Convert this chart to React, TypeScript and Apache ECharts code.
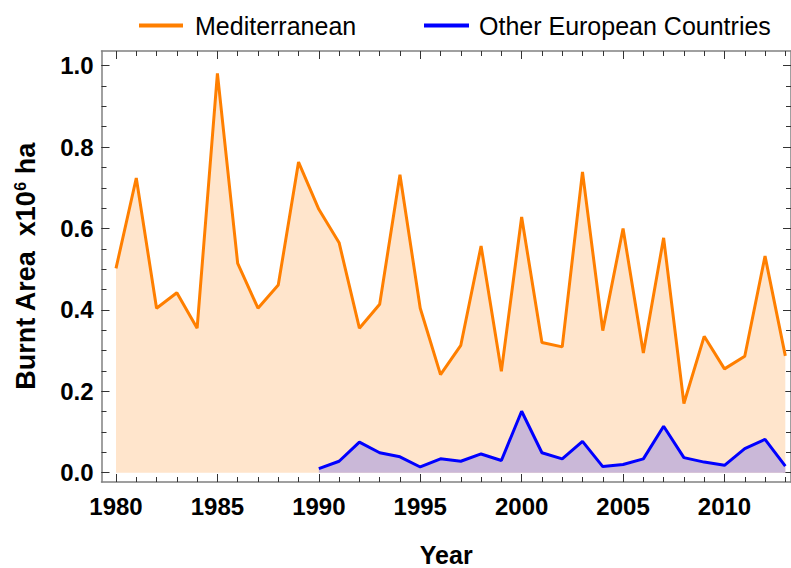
import React, { useEffect, useRef } from "react";
import * as echarts from "echarts";

const medYears = [1980,1981,1982,1983,1984,1985,1986,1987,1988,1989,1990,1991,1992,1993,1994,1995,1996,1997,1998,1999,2000,2001,2002,2003,2004,2005,2006,2007,2008,2009,2010,2011,2012,2013];
const medValues = [0.502,0.724,0.404,0.442,0.355,0.981,0.514,0.404,0.461,0.763,0.647,0.565,0.355,0.414,0.732,0.404,0.241,0.313,0.557,0.249,0.628,0.320,0.309,0.739,0.349,0.600,0.294,0.577,0.170,0.335,0.255,0.286,0.532,0.287];
const otherYears = [1990,1991,1992,1993,1994,1995,1996,1997,1998,1999,2000,2001,2002,2003,2004,2005,2006,2007,2008,2009,2010,2011,2012,2013];
const otherValues = [0.010,0.028,0.075,0.049,0.039,0.014,0.034,0.028,0.046,0.030,0.151,0.049,0.034,0.077,0.015,0.020,0.034,0.114,0.037,0.026,0.018,0.059,0.082,0.016];

const xMajorTicks = [1980,1985,1990,1995,2000,2005,2010];
const xMinorTicks = [1980,1981,1982,1983,1984,1985,1986,1987,1988,1989,1990,1991,1992,1993,1994,1995,1996,1997,1998,1999,2000,2001,2002,2003,2004,2005,2006,2007,2008,2009,2010,2011,2012,2013];
const yMajorTicks = [0,0.2,0.4,0.6,0.8,1.0];
const yMinorTicks = [0,0.05,0.1,0.15,0.2,0.25,0.3,0.35,0.4,0.45,0.5,0.55,0.6,0.65,0.7,0.75,0.8,0.85,0.9,0.95,1.0];

const X_MIN = 1979.285;
const X_MAX = 2013.28;
const Y_MIN = -0.0229;
const Y_MAX = 1.036;

const FONT = "Liberation Sans";
const FRAME = "#808080";
const TICK = "#333333";

export default function App() {
  const ref = useRef<HTMLDivElement>(null);
  useEffect(() => {
    if (!ref.current) return;
    const chart = echarts.init(ref.current, null, { renderer: "svg" });

    const xAxisBase = (position: string, major: boolean, labels: boolean, line: boolean) => ({
      type: "value",
      position,
      min: X_MIN,
      max: X_MAX,
      axisLine: { show: line, onZero: false, lineStyle: { color: FRAME, width: 1.5 } },
      axisTick: {
        show: true,
        inside: true,
        length: major ? 8 : 5,
        lineStyle: { color: TICK, width: 1 },
        customValues: major ? xMajorTicks : xMinorTicks,
      },
      axisLabel: labels
        ? {
            show: true,
            customValues: xMajorTicks,
            formatter: (v: number) => String(Math.round(v)),
            fontFamily: FONT,
            fontWeight: "bold",
            fontSize: 24,
            color: "#000",
            margin: 12,
          }
        : { show: false },
      splitLine: { show: false },
    });

    const yAxisBase = (position: string, major: boolean, labels: boolean, line: boolean) => ({
      type: "value",
      position,
      min: Y_MIN,
      max: Y_MAX,
      axisLine: { show: line, onZero: false, lineStyle: { color: FRAME, width: 1.5 } },
      axisTick: {
        show: true,
        inside: true,
        length: major ? 8 : 5,
        lineStyle: { color: TICK, width: 1 },
        customValues: major ? yMajorTicks : yMinorTicks,
      },
      axisLabel: labels
        ? {
            show: true,
            customValues: yMajorTicks,
            formatter: (v: number) => v.toFixed(1),
            fontFamily: FONT,
            fontWeight: "bold",
            fontSize: 24,
            color: "#000",
            margin: 8,
          }
        : { show: false },
      splitLine: { show: false },
    });

    const xMain: any = {
      ...xAxisBase("bottom", true, true, true),
      name: "Year",
      nameLocation: "middle",
      nameGap: 60,
      nameTextStyle: { fontFamily: FONT, fontWeight: "bold", fontSize: 25, color: "#000" },
    };
    const yMain: any = {
      ...yAxisBase("left", true, true, true),
      name: "{a|Burnt Area  x10}{s|6}{a| ha}",
      nameLocation: "middle",
      nameGap: 62,
      nameRotate: 90,
      nameTextStyle: {
        rich: {
          a: { fontFamily: FONT, fontWeight: "bold", fontSize: 27, color: "#000" },
          s: { fontFamily: FONT, fontWeight: "bold", fontSize: 16, color: "#000", verticalAlign: "top" },
        },
      },
    };

    chart.setOption({
      animation: false,
      backgroundColor: "#ffffff",
      grid: {
        left: 101.5,
        right: 0,
        top: 51,
        bottom: 86,
        containLabel: false,
        outerBoundsMode: "none",
      },
      legend: [
        {
          left: 134,
          top: 8,
          data: [{ name: "Mediterranean", icon: "rect" }],
          itemWidth: 44,
          itemHeight: 4,
          textStyle: { fontFamily: FONT, fontSize: 25, color: "#000", padding: [0, 0, 0, 7] },
          selectedMode: false,
        },
        {
          left: 419,
          top: 8,
          data: [{ name: "Other European Countries", icon: "rect" }],
          itemWidth: 45,
          itemHeight: 4,
          textStyle: { fontFamily: FONT, fontSize: 25, color: "#000", padding: [0, 0, 0, 5] },
          selectedMode: false,
        },
      ],
      xAxis: [
        xMain,
        xAxisBase("bottom", false, false, false),
        xAxisBase("top", true, false, true),
        xAxisBase("top", false, false, false),
      ],
      yAxis: [
        yMain,
        yAxisBase("left", false, false, false),
        yAxisBase("right", true, false, true),
        yAxisBase("right", false, false, false),
      ],
      series: [
        {
          name: "Mediterranean",
          type: "line",
          xAxisIndex: 0,
          yAxisIndex: 0,
          data: medYears.map((y, i) => [y, medValues[i]]),
          showSymbol: false,
          symbol: "none",
          lineStyle: { color: "#FF7F00", width: 3 },
          itemStyle: { color: "#FF7F00" },
          areaStyle: { color: "#FFE5CC", opacity: 1, origin: 0 },
          z: 2,
        },
        {
          name: "Other European Countries",
          type: "line",
          xAxisIndex: 0,
          yAxisIndex: 0,
          data: otherYears.map((y, i) => [y, otherValues[i]]),
          showSymbol: false,
          symbol: "none",
          lineStyle: { color: "#0000FF", width: 3 },
          itemStyle: { color: "#0000FF" },
          areaStyle: { color: "#CAB8D8", opacity: 1, origin: 0 },
          z: 3,
        },
      ],
    });
    return () => chart.dispose();
  }, []);
  return (
    <div
      ref={ref}
      style={{ position: "fixed", left: 0, top: 0, width: 791, height: 568, background: "#fff" }}
    />
  );
}
